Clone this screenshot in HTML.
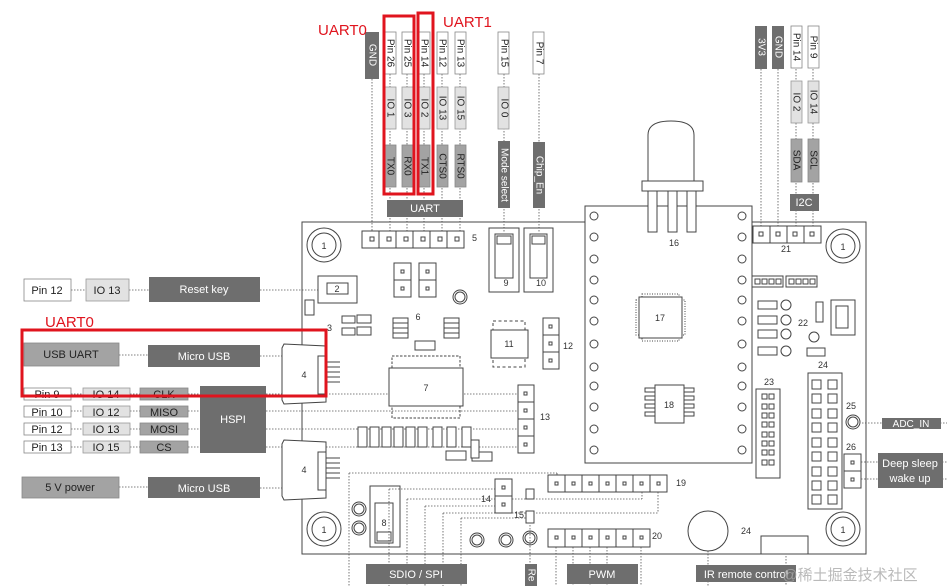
<!DOCTYPE html>
<html><head><meta charset="utf-8"><style>
html,body{margin:0;padding:0;background:#fff;}
svg{display:block;font-family:"Liberation Sans","Noto Sans CJK SC",sans-serif;}
.d{fill:#6e6e6e;} .m{fill:#a3a3a3;stroke:#888;stroke-width:.8} .l{fill:#e2e2e2;stroke:#999;stroke-width:.8} .w{fill:#fff;stroke:#888;stroke-width:.8}
.o{fill:none;stroke:#444;stroke-width:1}
.ow{fill:#fff;stroke:#444;stroke-width:1}
.dl{stroke:#555;stroke-width:.8;stroke-dasharray:1.5 1.5;fill:none}
.r{fill:none;stroke:#e0141e;stroke-width:3}
.tw{fill:#fff;font-size:11px} .tk{fill:#222;font-size:11px} .tn{fill:#333;font-size:9px}
</style></head><body>
<svg width="947" height="586" viewBox="0 0 947 586" xmlns="http://www.w3.org/2000/svg">
<g class="dl">
<line x1="372" y1="79" x2="372" y2="239"/><line x1="390" y1="74" x2="390" y2="239"/><line x1="407" y1="74" x2="407" y2="239"/>
<line x1="424" y1="74" x2="424" y2="239"/><line x1="442" y1="74" x2="442" y2="239"/><line x1="460" y1="74" x2="460" y2="239"/>
<line x1="504" y1="74" x2="504" y2="232"/><line x1="539" y1="74" x2="539" y2="232"/>
<line x1="761" y1="69" x2="761" y2="234"/><line x1="778" y1="69" x2="778" y2="234"/><line x1="796" y1="69" x2="796" y2="234"/><line x1="813" y1="69" x2="813" y2="234"/>
<line x1="71" y1="290" x2="86" y2="290"/><line x1="129" y1="290" x2="149" y2="290"/><line x1="260" y1="290" x2="328" y2="290"/>
<line x1="119" y1="355" x2="148" y2="355"/><line x1="260" y1="356" x2="305" y2="356"/>
<line x1="119" y1="487" x2="148" y2="487"/><line x1="260" y1="488" x2="305" y2="488"/>
<line x1="71" y1="394" x2="83" y2="394"/><line x1="130" y1="394" x2="140" y2="394"/><line x1="188" y1="394" x2="200" y2="394"/>
<line x1="71" y1="411" x2="83" y2="411"/><line x1="130" y1="411" x2="140" y2="411"/><line x1="188" y1="411" x2="200" y2="411"/>
<line x1="71" y1="429" x2="83" y2="429"/><line x1="130" y1="429" x2="140" y2="429"/><line x1="188" y1="429" x2="200" y2="429"/>
<line x1="71" y1="447" x2="83" y2="447"/><line x1="130" y1="447" x2="140" y2="447"/><line x1="188" y1="447" x2="200" y2="447"/>
<line x1="266" y1="394" x2="526" y2="394"/><line x1="266" y1="411" x2="526" y2="411"/><line x1="266" y1="429" x2="526" y2="429"/><line x1="266" y1="447" x2="526" y2="447"/>
<line x1="862" y1="423" x2="947" y2="423"/><line x1="852" y1="462" x2="947" y2="462"/><line x1="852" y1="479" x2="947" y2="479"/>
<line x1="349" y1="473" x2="557" y2="473"/><line x1="557" y1="473" x2="557" y2="483"/><line x1="349" y1="473" x2="349" y2="586"/>
<line x1="389" y1="489" x2="503" y2="489"/><line x1="389" y1="489" x2="389" y2="586"/>
<line x1="407" y1="499" x2="642" y2="499"/><line x1="407" y1="499" x2="407" y2="586"/><line x1="642" y1="483" x2="642" y2="499"/>
<line x1="425" y1="506" x2="503" y2="506"/><line x1="425" y1="506" x2="425" y2="586"/>
<line x1="443" y1="513" x2="658" y2="513"/><line x1="443" y1="513" x2="443" y2="586"/><line x1="658" y1="483" x2="658" y2="513"/>
<line x1="461" y1="518" x2="530" y2="518"/><line x1="461" y1="518" x2="461" y2="586"/>
<line x1="530" y1="525" x2="530" y2="586"/>
<line x1="556" y1="538" x2="556" y2="586"/><line x1="573" y1="538" x2="573" y2="586"/><line x1="590" y1="538" x2="590" y2="586"/><line x1="607" y1="538" x2="607" y2="586"/><line x1="641" y1="538" x2="641" y2="586"/>
<line x1="708" y1="551" x2="708" y2="586"/><line x1="786" y1="553" x2="786" y2="586"/>
</g>
<rect x="302" y="222" width="564" height="332" class="o"/>
<rect x="585" y="206" width="167" height="257" class="ow"/>
<path d="M648 183 V135 Q648 121 671 121 Q694 121 694 135 V183 Z" class="ow"/>
<rect x="642" y="181" width="61" height="10" class="ow"/>
<rect x="648" y="191" width="9" height="41" class="ow"/><rect x="668" y="191" width="9" height="41" class="ow"/><rect x="687" y="191" width="9" height="41" class="ow"/>
<text x="674" y="246" class="tn" text-anchor="middle">16</text>
<g class="o">
<circle cx="594" cy="216" r="4"/><circle cx="594" cy="237" r="4"/><circle cx="594" cy="259" r="4"/><circle cx="594" cy="280" r="4"/><circle cx="594" cy="300" r="4"/><circle cx="594" cy="321" r="4"/><circle cx="594" cy="344" r="4"/><circle cx="594" cy="367" r="4"/><circle cx="594" cy="386" r="4"/><circle cx="594" cy="407" r="4"/><circle cx="594" cy="429" r="4"/><circle cx="594" cy="450" r="4"/>
<circle cx="742" cy="216" r="4"/><circle cx="742" cy="237" r="4"/><circle cx="742" cy="259" r="4"/><circle cx="742" cy="280" r="4"/><circle cx="742" cy="300" r="4"/><circle cx="742" cy="321" r="4"/><circle cx="742" cy="344" r="4"/><circle cx="742" cy="367" r="4"/><circle cx="742" cy="386" r="4"/><circle cx="742" cy="407" r="4"/><circle cx="742" cy="429" r="4"/><circle cx="742" cy="450" r="4"/>
</g>
<rect x="636" y="300" width="49" height="35" fill="none" stroke="#444" stroke-dasharray="1 1.5"/>
<rect x="642" y="294" width="37" height="47" fill="none" stroke="#444" stroke-dasharray="1 1.5"/>
<rect x="639" y="297" width="43" height="41" class="ow"/>
<text x="660" y="321" class="tn" text-anchor="middle">17</text>
<g class="o"><rect x="645" y="388" width="10" height="4"/><rect x="645" y="396" width="10" height="4"/><rect x="645" y="404" width="10" height="4"/><rect x="645" y="412" width="10" height="4"/>
<rect x="684" y="388" width="10" height="4"/><rect x="684" y="396" width="10" height="4"/><rect x="684" y="404" width="10" height="4"/><rect x="684" y="412" width="10" height="4"/></g>
<rect x="655" y="385" width="29" height="38" class="ow"/>
<text x="669" y="408" class="tn" text-anchor="middle">18</text>
<g class="ow"><rect x="362" y="231" width="17" height="17"/><rect x="379" y="231" width="17" height="17"/><rect x="396" y="231" width="17" height="17"/><rect x="413" y="231" width="17" height="17"/><rect x="430" y="231" width="17" height="17"/><rect x="447" y="231" width="17" height="17"/></g>
<g class="o"><rect x="370" y="237" width="4" height="4"/><rect x="387" y="237" width="4" height="4"/><rect x="404" y="237" width="4" height="4"/><rect x="421" y="237" width="4" height="4"/><rect x="438" y="237" width="4" height="4"/><rect x="455" y="237" width="4" height="4"/></g>
<text x="472" y="241" class="tn">5</text>
<rect x="489" y="228" width="30" height="64" class="o"/><rect x="495" y="234" width="18" height="44" class="o"/><rect x="497" y="236" width="14" height="8" class="o"/>
<rect x="524" y="228" width="29" height="64" class="o"/><rect x="530" y="234" width="17" height="44" class="o"/><rect x="532" y="236" width="13" height="8" class="o"/>
<text x="506" y="286" class="tn" text-anchor="middle">9</text><text x="541" y="286" class="tn" text-anchor="middle">10</text>
<g class="ow"><rect x="753" y="226" width="17" height="17"/><rect x="770" y="226" width="17" height="17"/><rect x="787" y="226" width="17" height="17"/><rect x="804" y="226" width="17" height="17"/></g>
<g class="o"><rect x="759" y="232" width="4" height="4"/><rect x="776" y="232" width="4" height="4"/><rect x="793" y="232" width="4" height="4"/><rect x="810" y="232" width="4" height="4"/></g>
<text x="786" y="252" class="tn" text-anchor="middle">21</text>
<g class="o"><circle cx="324" cy="245" r="17"/><circle cx="324" cy="245" r="12"/><circle cx="843" cy="246" r="17"/><circle cx="843" cy="246" r="12"/>
<circle cx="324" cy="529" r="17"/><circle cx="324" cy="529" r="12"/><circle cx="843" cy="529" r="17"/><circle cx="843" cy="529" r="12"/></g>
<g class="tn" text-anchor="middle"><text x="324" y="249">1</text><text x="843" y="250">1</text><text x="324" y="533">1</text><text x="843" y="533">1</text></g>
<rect x="318" y="276" width="39" height="27" class="ow"/><rect x="327" y="283" width="21" height="11" class="o"/><text x="337" y="292" class="tn" text-anchor="middle">2</text>
<rect x="305" y="300" width="9" height="15" class="o"/>
<text x="327" y="331" class="tn">3</text>
<g class="o"><rect x="342" y="316" width="13" height="7"/><rect x="357" y="315" width="14" height="8"/><rect x="342" y="328" width="13" height="7"/><rect x="357" y="327" width="14" height="8"/>
<rect x="393" y="318" width="15" height="5"/><rect x="393" y="323" width="15" height="5"/><rect x="393" y="328" width="15" height="5"/><rect x="393" y="333" width="15" height="5"/>
<rect x="444" y="318" width="15" height="5"/><rect x="444" y="323" width="15" height="5"/><rect x="444" y="328" width="15" height="5"/><rect x="444" y="333" width="15" height="5"/>
<rect x="415" y="341" width="20" height="9"/>
<circle cx="460" cy="297" r="7"/><circle cx="460" cy="297" r="5"/></g>
<text x="418" y="320" class="tn" text-anchor="middle">6</text>
<g class="ow"><rect x="394" y="263" width="17" height="17"/><rect x="394" y="280" width="17" height="17"/><rect x="419" y="263" width="17" height="17"/><rect x="419" y="280" width="17" height="17"/></g>
<g class="o"><rect x="401" y="270" width="3" height="3"/><rect x="401" y="287" width="3" height="3"/><rect x="426" y="270" width="3" height="3"/><rect x="426" y="287" width="3" height="3"/></g>
<rect x="392" y="356" width="68" height="12" fill="none" stroke="#444" stroke-dasharray="2.5 1.5"/>
<rect x="392" y="406" width="68" height="12" fill="none" stroke="#444" stroke-dasharray="2.5 1.5"/>
<rect x="389" y="368" width="74" height="38" class="ow"/><text x="426" y="391" class="tn" text-anchor="middle">7</text>
<rect x="493" y="321" width="32" height="9" fill="none" stroke="#444" stroke-dasharray="3 2.5"/>
<rect x="493" y="358" width="32" height="9" fill="none" stroke="#444" stroke-dasharray="3 2.5"/>
<rect x="491" y="330" width="37" height="28" class="ow"/><text x="509" y="347" class="tn" text-anchor="middle">11</text>
<g class="ow"><rect x="543" y="318" width="16" height="17"/><rect x="543" y="335" width="16" height="17"/><rect x="543" y="352" width="16" height="17"/></g>
<g class="o"><rect x="549" y="325" width="3" height="3"/><rect x="549" y="342" width="3" height="3"/><rect x="549" y="359" width="3" height="3"/></g>
<text x="563" y="349" class="tn">12</text>
<g class="ow"><rect x="518" y="385" width="16" height="17"/><rect x="518" y="402" width="16" height="17"/><rect x="518" y="419" width="16" height="17"/><rect x="518" y="436" width="16" height="17"/></g>
<g class="o"><rect x="524" y="392" width="3" height="3"/><rect x="524" y="409" width="3" height="3"/><rect x="524" y="426" width="3" height="3"/><rect x="524" y="443" width="3" height="3"/></g>
<text x="540" y="420" class="tn">13</text>
<g class="ow"><rect x="358" y="427" width="9" height="20"/><rect x="370" y="427" width="9" height="20"/><rect x="382" y="427" width="9" height="20"/><rect x="394" y="427" width="9" height="20"/><rect x="406" y="427" width="9" height="20"/><rect x="418" y="427" width="9" height="20"/><rect x="433" y="427" width="9" height="20"/><rect x="447" y="427" width="9" height="20"/><rect x="462" y="427" width="9" height="20"/>
<rect x="472" y="452" width="20" height="9"/><rect x="446" y="451" width="20" height="9"/><rect x="471" y="440" width="8" height="18"/></g>
<g class="ow"><path d="M282 348 L284 344 L326 346 V402 L284 404 L282 400 Z"/><path d="M282 444 L284 440 L326 442 V498 L284 500 L282 496 Z"/></g>
<g class="o"><rect x="318" y="356" width="8" height="38"/><rect x="318" y="452" width="8" height="38"/>
<line x1="326" y1="362" x2="340" y2="362"/><line x1="326" y1="367" x2="340" y2="367"/><line x1="326" y1="372" x2="340" y2="372"/><line x1="326" y1="377" x2="340" y2="377"/><line x1="326" y1="382" x2="340" y2="382"/>
<line x1="326" y1="458" x2="340" y2="458"/><line x1="326" y1="463" x2="340" y2="463"/><line x1="326" y1="468" x2="340" y2="468"/><line x1="326" y1="473" x2="340" y2="473"/><line x1="326" y1="478" x2="340" y2="478"/></g>
<text x="304" y="378" class="tn" text-anchor="middle">4</text><text x="304" y="473" class="tn" text-anchor="middle">4</text>
<rect x="370" y="486" width="30" height="61" class="o"/><rect x="375" y="503" width="18" height="40" class="o"/><rect x="377" y="532" width="14" height="9" class="o"/>
<text x="384" y="526" class="tn" text-anchor="middle">8</text>
<g class="o"><circle cx="359" cy="509" r="7"/><circle cx="359" cy="509" r="5"/><circle cx="359" cy="528" r="7"/><circle cx="359" cy="528" r="5"/>
<circle cx="477" cy="540" r="7"/><circle cx="477" cy="540" r="5"/><circle cx="506" cy="540" r="7"/><circle cx="506" cy="540" r="5"/><circle cx="530" cy="538" r="7"/><circle cx="530" cy="538" r="5"/></g>
<g class="ow"><rect x="495" y="479" width="17" height="17"/><rect x="495" y="496" width="17" height="17"/><rect x="526" y="489" width="8" height="10"/><rect x="526" y="511" width="8" height="12"/></g>
<g class="o"><rect x="502" y="486" width="3" height="3"/><rect x="502" y="503" width="3" height="3"/></g>
<text x="481" y="502" class="tn">14</text><text x="514" y="518" class="tn">15</text>
<g class="ow"><rect x="548" y="475" width="17" height="17"/><rect x="565" y="475" width="17" height="17"/><rect x="582" y="475" width="17" height="17"/><rect x="599" y="475" width="17" height="17"/><rect x="616" y="475" width="17" height="17"/><rect x="633" y="475" width="17" height="17"/><rect x="650" y="475" width="17" height="17"/></g>
<g class="o"><rect x="555" y="482" width="3" height="3"/><rect x="572" y="482" width="3" height="3"/><rect x="589" y="482" width="3" height="3"/><rect x="606" y="482" width="3" height="3"/><rect x="623" y="482" width="3" height="3"/><rect x="640" y="482" width="3" height="3"/><rect x="657" y="482" width="3" height="3"/></g>
<text x="676" y="486" class="tn">19</text>
<g class="ow"><rect x="548" y="529" width="17" height="18"/><rect x="565" y="529" width="17" height="18"/><rect x="582" y="529" width="17" height="18"/><rect x="599" y="529" width="17" height="18"/><rect x="616" y="529" width="17" height="18"/><rect x="633" y="529" width="17" height="18"/></g>
<g class="o"><rect x="555" y="536" width="3" height="3"/><rect x="572" y="536" width="3" height="3"/><rect x="589" y="536" width="3" height="3"/><rect x="606" y="536" width="3" height="3"/><rect x="623" y="536" width="3" height="3"/><rect x="640" y="536" width="3" height="3"/></g>
<text x="652" y="539" class="tn">20</text>
<g class="ow"><rect x="752" y="276" width="31" height="11"/><rect x="786" y="276" width="31" height="11"/>
<rect x="758" y="301" width="19" height="8"/><rect x="758" y="316" width="19" height="8"/><rect x="758" y="330" width="19" height="8"/><rect x="758" y="347" width="19" height="8"/><rect x="807" y="348" width="18" height="8"/><rect x="816" y="302" width="7" height="20"/>
<rect x="831" y="300" width="24" height="35"/><rect x="836" y="306" width="12" height="22"/></g>
<g class="o"><rect x="755" y="279" width="5" height="5"/><rect x="762" y="279" width="5" height="5"/><rect x="769" y="279" width="5" height="5"/><rect x="776" y="279" width="5" height="5"/>
<rect x="789" y="279" width="5" height="5"/><rect x="796" y="279" width="5" height="5"/><rect x="803" y="279" width="5" height="5"/><rect x="810" y="279" width="5" height="5"/>
<circle cx="786" cy="305" r="5"/><circle cx="786" cy="320" r="5"/><circle cx="786" cy="334" r="5"/><circle cx="786" cy="351" r="5"/><circle cx="814" cy="337" r="5"/></g>
<text x="798" y="326" class="tn">22</text>
<rect x="756" y="389" width="24" height="89" class="ow"/>
<rect x="808" y="373" width="34" height="136" class="ow"/>
<text x="769" y="385" class="tn" text-anchor="middle">23</text><text x="823" y="368" class="tn" text-anchor="middle">24</text>
<g class="o">
<rect x="812" y="380" width="9" height="9"/><rect x="828" y="380" width="9" height="9"/><rect x="812" y="394" width="9" height="9"/><rect x="828" y="394" width="9" height="9"/><rect x="812" y="409" width="9" height="9"/><rect x="828" y="409" width="9" height="9"/><rect x="812" y="423" width="9" height="9"/><rect x="828" y="423" width="9" height="9"/><rect x="812" y="438" width="9" height="9"/><rect x="828" y="438" width="9" height="9"/><rect x="812" y="452" width="9" height="9"/><rect x="828" y="452" width="9" height="9"/><rect x="812" y="467" width="9" height="9"/><rect x="828" y="467" width="9" height="9"/><rect x="812" y="481" width="9" height="9"/><rect x="828" y="481" width="9" height="9"/><rect x="812" y="495" width="9" height="9"/><rect x="828" y="495" width="9" height="9"/>
<rect x="762" y="394" width="5" height="5"/><rect x="769" y="394" width="5" height="5"/><rect x="762" y="404" width="5" height="5"/><rect x="769" y="404" width="5" height="5"/><rect x="762" y="413" width="5" height="5"/><rect x="769" y="413" width="5" height="5"/><rect x="762" y="422" width="5" height="5"/><rect x="769" y="422" width="5" height="5"/><rect x="762" y="432" width="5" height="5"/><rect x="769" y="432" width="5" height="5"/><rect x="762" y="441" width="5" height="5"/><rect x="769" y="441" width="5" height="5"/><rect x="762" y="450" width="5" height="5"/><rect x="769" y="450" width="5" height="5"/><rect x="762" y="460" width="5" height="5"/><rect x="769" y="460" width="5" height="5"/>
<circle cx="853" cy="422" r="7"/><circle cx="853" cy="422" r="5"/></g>
<text x="851" y="409" class="tn" text-anchor="middle">25</text><text x="851" y="450" class="tn" text-anchor="middle">26</text>
<g class="ow"><rect x="844" y="454" width="17" height="17"/><rect x="844" y="471" width="17" height="17"/></g>
<g class="o"><rect x="851" y="461" width="3" height="3"/><rect x="851" y="478" width="3" height="3"/></g>
<circle cx="708" cy="531" r="20" class="ow"/>
<text x="746" y="534" class="tn" text-anchor="middle">24</text>
<rect x="761" y="536" width="47" height="18" class="ow"/>
<rect x="365" y="32" width="14" height="47" class="d"/>
<g class="w"><rect x="385" y="32" width="11" height="42"/><rect x="402" y="32" width="11" height="42"/><rect x="419" y="32" width="11" height="42"/><rect x="437" y="32" width="11" height="42"/><rect x="455" y="32" width="11" height="42"/><rect x="498" y="32" width="11" height="42"/><rect x="533" y="32" width="11" height="42"/><rect x="791" y="26" width="11" height="42"/><rect x="808" y="26" width="11" height="42"/></g>
<g class="l"><rect x="385" y="87" width="11" height="42"/><rect x="402" y="87" width="11" height="42"/><rect x="419" y="87" width="11" height="42"/><rect x="437" y="87" width="11" height="42"/><rect x="455" y="87" width="11" height="42"/><rect x="498" y="87" width="11" height="42"/><rect x="791" y="81" width="11" height="42"/><rect x="808" y="81" width="11" height="42"/></g>
<g class="m"><rect x="385" y="145" width="11" height="42"/><rect x="402" y="145" width="11" height="42"/><rect x="419" y="145" width="11" height="42"/><rect x="437" y="145" width="11" height="42"/><rect x="455" y="145" width="11" height="42"/><rect x="791" y="139" width="11" height="43"/><rect x="808" y="139" width="11" height="43"/></g>
<g class="d"><rect x="498" y="141" width="12" height="67"/><rect x="533" y="142" width="12" height="66"/><rect x="387" y="200" width="76" height="17"/><rect x="755" y="26" width="12" height="43"/><rect x="772" y="26" width="12" height="43"/><rect x="790" y="194" width="29" height="17"/></g>
<g font-size="10" text-anchor="middle" dominant-baseline="central">
<text transform="translate(372,55) rotate(90)" fill="#fff">GND</text>
<text transform="translate(390,53) rotate(90)" fill="#222">Pin 26</text><text transform="translate(407,53) rotate(90)" fill="#222">Pin 25</text><text transform="translate(424,53) rotate(90)" fill="#222">Pin 14</text><text transform="translate(442,53) rotate(90)" fill="#222">Pin 12</text><text transform="translate(460,53) rotate(90)" fill="#222">Pin 13</text>
<text transform="translate(504,53) rotate(90)" fill="#222">Pin 15</text><text transform="translate(539,53) rotate(90)" fill="#222">Pin 7</text>
<text transform="translate(390,108) rotate(90)" fill="#222">IO 1</text><text transform="translate(407,108) rotate(90)" fill="#222">IO 3</text><text transform="translate(424,108) rotate(90)" fill="#222">IO 2</text><text transform="translate(442,108) rotate(90)" fill="#222">IO 13</text><text transform="translate(460,108) rotate(90)" fill="#222">IO 15</text><text transform="translate(504,108) rotate(90)" fill="#222">IO 0</text>
<text transform="translate(390,166) rotate(90)" fill="#222">TX0</text><text transform="translate(407,166) rotate(90)" fill="#222">RX0</text><text transform="translate(424,166) rotate(90)" fill="#222">TX1</text><text transform="translate(442,166) rotate(90)" fill="#222">CTS0</text><text transform="translate(460,166) rotate(90)" fill="#222">RTS0</text>
<text transform="translate(504,175) rotate(90)" fill="#fff">Mode select</text><text transform="translate(539,175) rotate(90)" fill="#fff">Chip_En</text>
<text transform="translate(761,47) rotate(90)" fill="#fff">3V3</text><text transform="translate(778,47) rotate(90)" fill="#fff">GND</text>
<text transform="translate(796,47) rotate(90)" fill="#222">Pin 14</text><text transform="translate(813,47) rotate(90)" fill="#222">Pin 9</text>
<text transform="translate(796,102) rotate(90)" fill="#222">IO 2</text><text transform="translate(813,102) rotate(90)" fill="#222">IO 14</text>
<text transform="translate(796,160) rotate(90)" fill="#222">SDA</text><text transform="translate(813,160) rotate(90)" fill="#222">SCL</text>
</g>
<text x="425" y="212" class="tw" text-anchor="middle">UART</text>
<text x="804" y="206" class="tw" text-anchor="middle">I2C</text>
<rect x="24" y="279" width="47" height="22" class="w"/><rect x="86" y="279" width="43" height="22" class="l"/><rect x="149" y="277" width="111" height="25" class="d"/>
<text x="47" y="294" class="tk" text-anchor="middle">Pin 12</text><text x="107" y="294" class="tk" text-anchor="middle">IO 13</text><text x="204" y="293" class="tw" text-anchor="middle">Reset key</text>
<rect x="24" y="343" width="95" height="23" class="m"/><rect x="148" y="345" width="112" height="22" class="d"/>
<text x="71" y="358" class="tk" text-anchor="middle">USB UART</text><text x="204" y="360" class="tw" text-anchor="middle">Micro USB</text>
<g class="w"><rect x="24" y="388" width="47" height="12"/><rect x="24" y="406" width="47" height="11"/><rect x="24" y="423" width="47" height="12"/><rect x="24" y="441" width="47" height="12"/></g>
<g class="l"><rect x="83" y="388" width="47" height="12"/><rect x="83" y="406" width="47" height="11"/><rect x="83" y="423" width="47" height="12"/><rect x="83" y="441" width="47" height="12"/></g>
<g class="m"><rect x="140" y="388" width="48" height="12"/><rect x="140" y="406" width="48" height="11"/><rect x="140" y="423" width="48" height="12"/><rect x="140" y="441" width="48" height="12"/></g>
<rect x="200" y="386" width="66" height="67" class="d"/>
<g class="tk" text-anchor="middle">
<text x="47" y="398">Pin 9</text><text x="47" y="416">Pin 10</text><text x="47" y="433">Pin 12</text><text x="47" y="451">Pin 13</text>
<text x="106" y="398">IO 14</text><text x="106" y="416">IO 12</text><text x="106" y="433">IO 13</text><text x="106" y="451">IO 15</text>
<text x="164" y="398">CLK</text><text x="164" y="416">MISO</text><text x="164" y="433">MOSI</text><text x="164" y="451">CS</text></g>
<text x="233" y="423" class="tw" text-anchor="middle">HSPI</text>
<rect x="22" y="477" width="97" height="21" class="m"/><rect x="148" y="477" width="112" height="21" class="d"/>
<text x="70" y="491" class="tk" text-anchor="middle">5 V power</text><text x="204" y="492" class="tw" text-anchor="middle">Micro USB</text>
<rect x="366" y="564" width="101" height="20" class="d"/><text x="416" y="578" class="tw" text-anchor="middle">SDIO / SPI</text>
<rect x="525" y="564" width="12" height="22" class="d"/><text transform="translate(531,575) rotate(90)" fill="#fff" font-size="10" text-anchor="middle" dominant-baseline="central">Re</text>
<rect x="567" y="564" width="71" height="20" class="d"/><text x="602" y="578" class="tw" text-anchor="middle">PWM</text>
<rect x="696" y="565" width="100" height="17" class="d"/><text x="746" y="578" class="tw" text-anchor="middle">IR remote control</text>
<rect x="882" y="418" width="59" height="11" class="d"/><text x="911" y="427" fill="#fff" font-size="10" text-anchor="middle">ADC_IN</text>
<rect x="878" y="453" width="65" height="35" class="d"/><text x="910" y="467" class="tw" text-anchor="middle">Deep sleep</text><text x="910" y="482" class="tw" text-anchor="middle">wake up</text>
<text x="850" y="580" fill="#aaa" font-size="15" opacity=".8" text-anchor="middle">@稀土掘金技术社区</text>
<rect x="384" y="16" width="30" height="178" class="r"/>
<rect x="418" y="13" width="15" height="181" class="r"/>
<rect x="22" y="330" width="304" height="66" class="r"/>
<g fill="#e0141e" font-size="15"><text x="318" y="35">UART0</text><text x="443" y="27">UART1</text><text x="45" y="327">UART0</text></g>
</svg>
</body></html>
